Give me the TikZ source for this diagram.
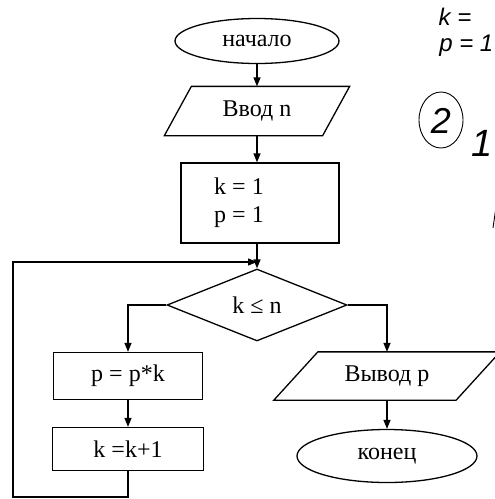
\documentclass[tikz,border=0pt]{standalone}
\usepackage{fontspec}
\setmainfont{Liberation Serif}
\newfontfamily\handfont{Liberation Sans}
\usetikzlibrary{shapes.geometric,arrows.meta}
\begin{document}
\begin{tikzpicture}[x=1pt,y=-1pt,
  line width=1.3pt,
  every node/.style={font=\fontsize{24}{28}\selectfont, inner sep=0pt},
  term/.style={ellipse, draw},
  proc/.style={rectangle, draw},
  iobox/.style={rectangle, draw=none},
  dec/.style={diamond, draw},
  arr/.style={-{Triangle[length=9pt,width=7pt]}},
  hand/.style={font=\handfont\itshape\fontsize{24}{26}\selectfont}
]
\useasboundingbox (0,0) rectangle (495,499);
\fill[white] (0,0) rectangle (495,499);

\node[term, minimum width=164pt, minimum height=45pt] (start) at (257,41) {начало};
\node[iobox, minimum width=157pt, minimum height=48pt] (in) at (257,111) {Ввод n};
\draw ([xshift=13.5pt]in.north west) -- ([xshift=13.5pt]in.north east) -- ([xshift=-13.5pt]in.south east) -- ([xshift=-13.5pt]in.south west) -- cycle;
\node[proc, minimum width=158pt, minimum height=80pt] (init) at (260,203) {};
\node[align=right] (inittext) at (239,203) {k = 1\\p = 1};
\node[dec, minimum width=180pt, minimum height=72pt] (cond) at (257,305) {k ≤ n};
\node[proc, minimum width=149pt, minimum height=47pt] (mul) at (128,376) {p = p*k};
\node[proc, minimum width=151pt, minimum height=43pt] (inc) at (128,449) {k =k+1};
\node[iobox, minimum width=181pt, minimum height=47pt] (out) at (387,376) {Вывод p};
\draw ([xshift=22pt]out.north west) -- ([xshift=22pt]out.north east) -- ([xshift=-22pt]out.south east) -- ([xshift=-22pt]out.south west) -- cycle;
\node[term, minimum width=180pt, minimum height=53pt] (stop) at (387,456) {конец};

\coordinate (join) at (257,262);
\coordinate (lb) at (13,497);
\draw[arr] (start.south) -- (in.north);
\draw[arr] (in.south) -- (in.south |- init.north);
\draw[arr] (init.south -| cond.north) -- (cond.north);
\draw[arr] (inc.south) |- (lb) |- (join);
\draw[arr] (cond.west) -| (mul.north);
\draw[arr] (cond.east) -| (out.north);
\draw[arr] (mul) -- (inc);
\draw[arr] (out) -- (stop);

% handwritten notes
\node[hand, anchor=west] (hk) at (438,17) {k =};
\node[hand, anchor=east] (hp) at (494,46) {p = 1};
\draw[line width=0.9pt] (441,120) ellipse [x radius=22pt, y radius=28pt];
\node[hand, font=\handfont\itshape\fontsize{36}{38}\selectfont] (two) at (441,121) {2};
\node[hand, font=\handfont\itshape\fontsize{38}{40}\selectfont] (one) at (482,143) {1};
\draw[line width=0.9pt] (497,200) -- (493,228);
\end{tikzpicture}
\end{document}
